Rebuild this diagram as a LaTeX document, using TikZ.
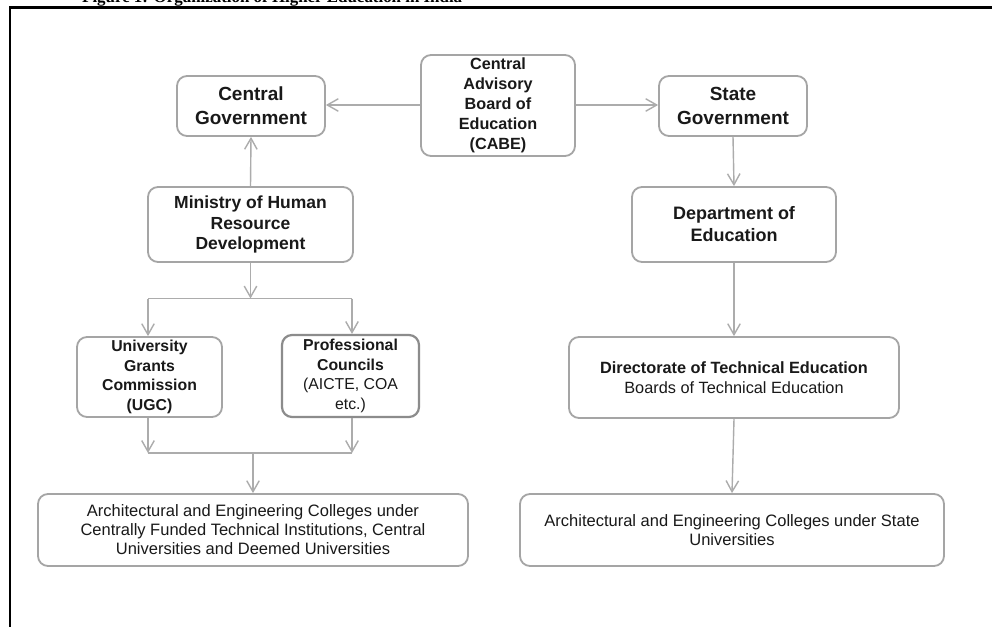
\documentclass[tikz,border=0pt]{standalone}
\usepackage{fontspec}
\setmainfont{Liberation Sans}
\newfontfamily\ttlserif{Liberation Serif}
\usetikzlibrary{arrows.meta}
\definecolor{boxgray}{RGB}{165,165,165}
\definecolor{arrgray}{RGB}{172,172,172}
\begin{document}
\begin{tikzpicture}[x=1pt,y=-1pt,
  box/.style={draw=boxgray, line width=1.8pt, rounded corners=10pt, align=center, inner sep=0pt, text=black!90},
  conn/.style={draw=arrgray, line width=1.4pt},
  arr/.style={conn, -{Straight Barb[length=11pt,width=12.5pt,line width=1.4pt]}},
  big/.style={font=\fontsize{19}{24}\selectfont\bfseries},
  sml/.style={font=\fontsize{15.8}{19.8}\selectfont\bfseries},
  low/.style={font=\fontsize{16.5}{19}\selectfont}
]
\useasboundingbox (0,0) rectangle (992,626);
\fill[white] (0,0) rectangle (992,626);
% title (cropped at the top of the picture, as in the reference)
\node[anchor=base west, inner sep=0pt] (title) at (82,2.5) {\fontsize{16.9}{20}\selectfont\ttlserif\bfseries Figure 1: Organization of Higher Education in India};
% frame
\coordinate (fbl) at (10,640);
\coordinate (ftl) at (10,7.5);
\coordinate (ftr) at (1005,7.5);
\draw[line width=2.2pt] (fbl) -- (ftl) -- (ftr);
% nodes
\node[box, big, minimum width=148pt, minimum height=60pt] (cg) at (251,106) {Central\\Government};
\node[box, minimum width=154pt, minimum height=101pt, font=\fontsize{16.2}{20}\selectfont\bfseries] (cabe) at (498,105.5) {Central\\Advisory\\Board of\\Education\\(CABE)};
\node[box, big, minimum width=148pt, minimum height=60pt] (sg) at (733,106) {State\\Government};
\node[box, minimum width=205pt, minimum height=75pt, font=\fontsize{17.5}{20.5}\selectfont\bfseries] (mhrd) at (250.5,224.5) {Ministry of Human\\Resource\\Development};
\node[box, minimum width=204pt, minimum height=75pt, font=\fontsize{18}{22}\selectfont\bfseries] (dept) at (734,224.5) {Department of\\Education};
\node[box, sml, minimum width=145pt, minimum height=80pt] (ugc) at (149.5,377) {University\\Grants\\Commission\\(UGC)};
\node[box, sml, minimum width=137pt, minimum height=82pt, line width=2.2pt, draw=black!45] (pc) at (350.5,376) {Professional\\Councils\\{\mdseries (AICTE, COA}\\{\mdseries etc.)}};
\node[box, minimum width=330pt, minimum height=81pt, font=\fontsize{16.3}{20}\selectfont\bfseries] (dte) at (734,377.5) {Directorate of Technical Education\\{\mdseries Boards of Technical Education}};
\node[box, low, minimum width=430pt, minimum height=72pt] (lc) at (253,530) {Architectural and Engineering Colleges under\\Centrally Funded Technical Institutions, Central\\Universities and Deemed Universities};
\node[box, low, minimum width=424pt, minimum height=72pt] (rc) at (732,530) {Architectural and Engineering Colleges under State\\Universities};
% junction coordinates
\coordinate (s1) at (250.5,298.5);
\coordinate (s1l) at (148,298.5);
\coordinate (s1r) at (352,298.5);
\coordinate (m1l) at (148,453);
\coordinate (m1r) at (352,453);
\coordinate (m1) at (253,453);
% connectors
\draw[arr] (cabe.west |- 0,105) -- (cg.east |- 0,105);
\draw[arr] (cabe.east |- 0,105) -- (sg.west |- 0,105);
\draw[arr] (mhrd.north) -- (cg.south);
\draw[arr] (sg.south) -- (dept.north);
\draw[arr] (mhrd.south) -- (s1);
\draw[conn] (s1l) -- (s1r);
\draw[arr] (s1l) -- (s1l |- ugc.north);
\draw[arr] (s1r) -- (s1r |- pc.north);
\draw[arr] (s1l |- ugc.south) -- (m1l);
\draw[arr] (s1r |- pc.south) -- (m1r);
\draw[conn] (m1l) -- (m1r);
\draw[arr] (m1) -- (lc.north);
\draw[arr] (dept.south) -- (dte.north);
\draw[arr] (dte.south) -- (rc.north);
\end{tikzpicture}
\end{document}
